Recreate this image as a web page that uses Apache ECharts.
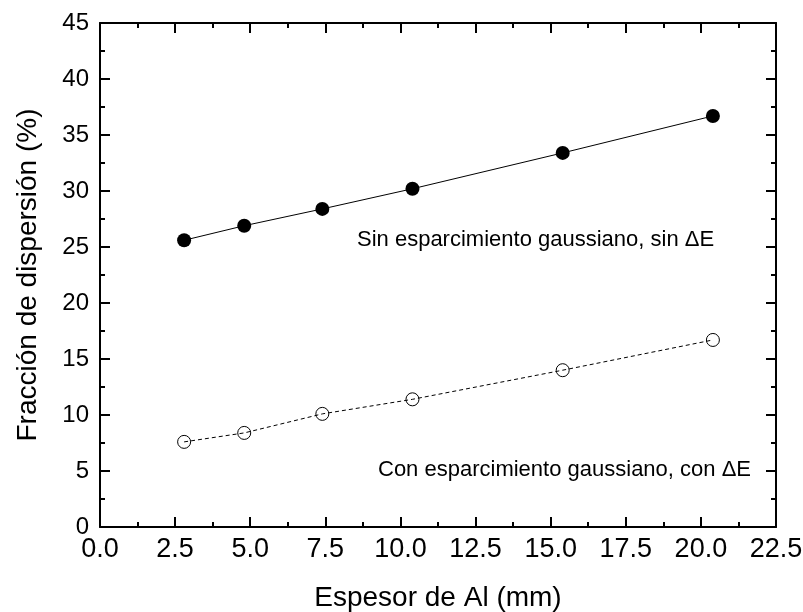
<!DOCTYPE html>
<html>
<head>
<meta charset="utf-8">
<script src="https://cdn.jsdelivr.net/npm/echarts@6/dist/echarts.min.js"></script>
<style>
html, body { margin: 0; padding: 0; background: #fff; }
#chart { width: 803px; height: 612px; }
</style>
</head>
<body>
<div id="chart"></div>
<script>
// espesor de Al (mm)
let espesor = [2.8, 4.8, 7.4, 10.4, 15.4, 20.4];
// fracción de dispersión (%) sin esparcimiento
let sinEsparc = [25.6, 26.9, 28.4, 30.2, 33.4, 36.7];
// fracción de dispersión (%) con esparcimiento
let conEsparc = [7.6, 8.4, 10.1, 11.4, 14.0, 16.7];

let fontFam = 'Liberation Sans, Arial, sans-serif';

function pairs(xs, ys){
	let result = [];
	for(let i = 0; i < xs.length; i++){
		result.push([xs[i], ys[i]]);
	}
	return result;
}

//ejes con marcas hacia dentro
function makeAxis(opts){
	return Object.assign({
		type: 'value',
		axisLine: {show: true, onZero: false, lineStyle: {color: '#000', width: 2}},
		axisTick: {show: true, inside: true, length: 10, lineStyle: {color: '#000', width: 2}},
		minorTick: {show: true, splitNumber: 2, length: 5, lineStyle: {color: '#000', width: 2}},
		splitLine: {show: false},
		axisLabel: {show: false}
	}, opts);
}

let chart = echarts.init(document.getElementById('chart'));

let option = {
	animation: false,
	backgroundColor: '#fff',
	grid: {left: 100, right: 27, top: 23, bottom: 85, outerBoundsMode: 'none', containLabel: false},
	xAxis: [
		makeAxis({
			min: 0, max: 22.5, interval: 2.5,
			name: 'Espesor de Al (mm)', nameLocation: 'middle', nameGap: 57,
			nameTextStyle: {color: '#000', fontSize: 28, fontFamily: fontFam},
			axisLabel: {color: '#000', fontSize: 27, fontFamily: fontFam, margin: 9,
				formatter: function(v){ return v.toFixed(1); }}
		}),
		makeAxis({
			min: 0, max: 22.5, interval: 2.5, position: 'top'
		})
	],
	yAxis: [
		makeAxis({
			min: 0, max: 45, interval: 5,
			name: 'Fracción de dispersión (%)', nameLocation: 'middle', nameGap: 58,
			nameTextStyle: {color: '#000', fontSize: 28, fontFamily: fontFam},
			axisLabel: {color: '#000', fontSize: 24, fontFamily: fontFam, margin: 11}
		}),
		makeAxis({
			min: 0, max: 45, interval: 5, position: 'right'
		})
	],
	series: [
		{
			type: 'line',
			data: pairs(espesor, sinEsparc),
			symbol: 'circle',
			symbolSize: 14,
			itemStyle: {color: '#000'},
			lineStyle: {color: '#000', width: 1}
		},
		{
			type: 'line',
			data: pairs(espesor, conEsparc),
			symbol: 'circle',
			symbolSize: 13,
			itemStyle: {color: 'rgba(0,0,0,0)', borderColor: '#000', borderWidth: 1},
			lineStyle: {color: '#000', width: 1, type: [4, 3]}
		}
	],
	graphic: [
		{
			type: 'text', left: 357, top: 229,
			style: {text: 'Sin esparcimiento gaussiano, sin ΔE', fill: '#000', fontSize: 22, fontFamily: fontFam}
		},
		{
			type: 'text', left: 378, top: 459,
			style: {text: 'Con esparcimiento gaussiano, con ΔE', fill: '#000', fontSize: 22, fontFamily: fontFam}
		}
	]
};

chart.setOption(option);
</script>
</body>
</html>
